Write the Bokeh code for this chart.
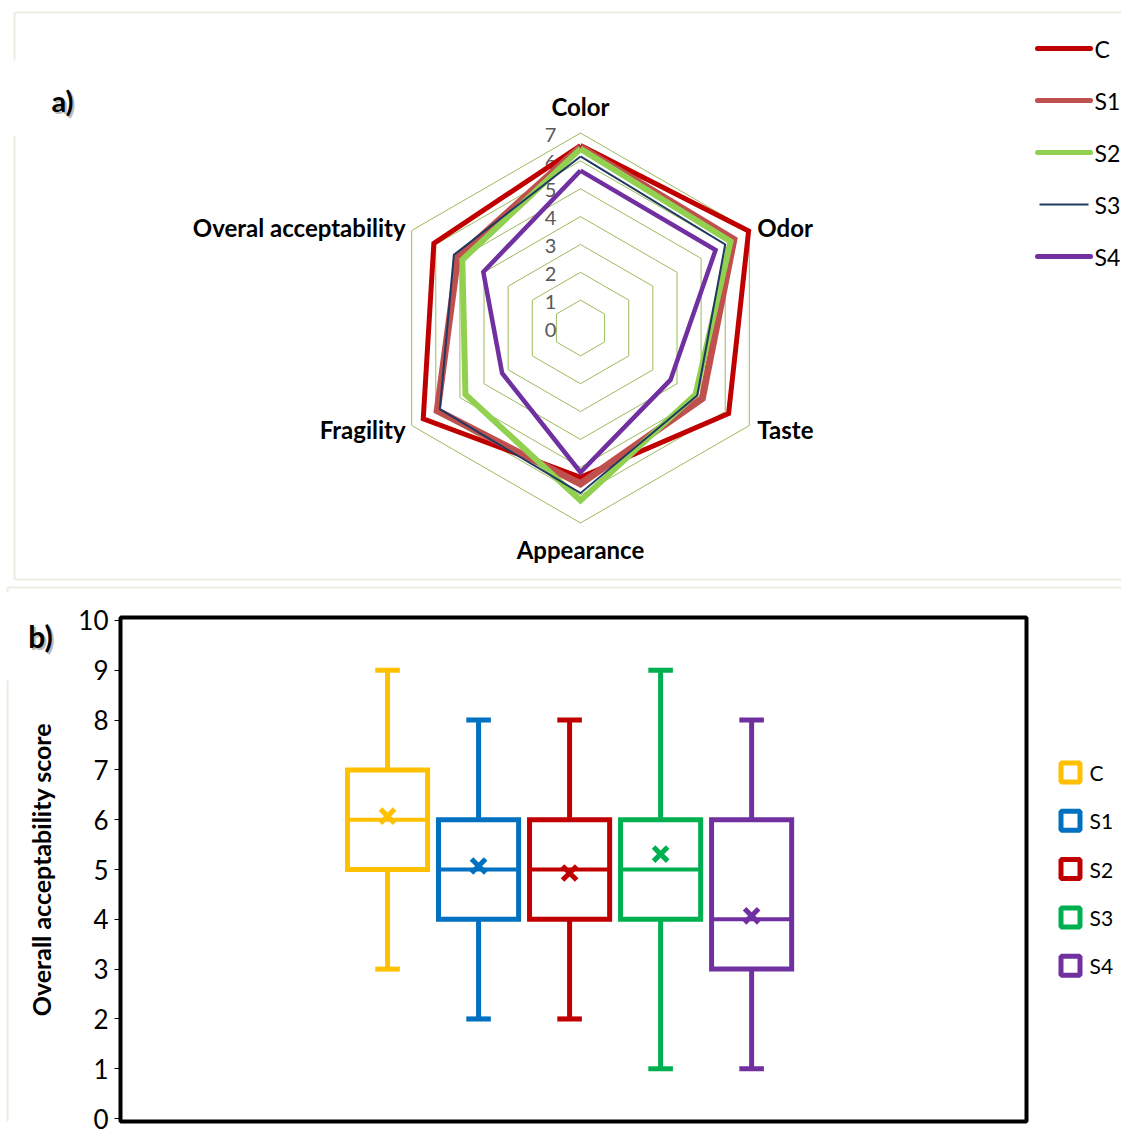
import numpy as np
from bokeh.plotting import figure
from bokeh.models import Range1d, FixedTicker
from bokeh.layouts import column, row
from bokeh.embed import file_html
from bokeh.resources import INLINE
from bokeh.core.properties import value

FONT = "Lato"

# ---------------- data: a) radar ----------------
attributes = ["Color", "Odor", "Taste", "Appearance", "Fragility", "Overal acceptability"]
radar_series = ["C", "S1", "S2", "S3", "S4"]
C_vals = [6.55, 6.97, 6.14, 5.36, 6.52, 6.08]
S1_vals = [6.50, 6.36, 5.05, 5.60, 5.94, 5.09]
S2_vals = [6.43, 6.22, 4.77, 6.19, 4.77, 4.90]
S3_vals = [6.16, 6.00, 4.84, 5.93, 5.83, 5.25]
S4_vals = [5.65, 5.60, 3.73, 5.18, 3.25, 4.03]
radar_ticks = [0, 1, 2, 3, 4, 5, 6, 7]

# ---------------- data: b) box plot ----------------
box_groups = ["C", "S1", "S2", "S3", "S4"]
whisker_low = [3, 2, 2, 1, 1]
q1 = [5, 4, 4, 4, 3]
median = [6, 5, 5, 5, 4]
q3 = [7, 6, 6, 6, 6]
whisker_high = [9, 8, 8, 9, 8]
mean = [6.07, 5.07, 4.93, 5.31, 4.07]
score_ticks = list(range(0, 11))
y_title = "Overall acceptability score"

# ---------------- styles ----------------
radar_colors = ["#C00000", "#C0504D", "#92D050", "#1F3864", "#7030A0"]
radar_widths = [5, 7, 6, 2, 4.5]
legend_widths = [5, 5, 5, 2, 5]
box_colors = ["#FFC000", "#0070C0", "#C00000", "#00B050", "#7030A0"]
ring_color = "#9BBB59"
panel_border = "#EEECE1"

W = 1121
TOP_H = 592
BOT_H = 544
TITLE_W = 60
LEFT_W = 1040
B_TOP, B_BOT = 25, 15                      # borders above/below the box-plot frame
F_TOP, F_BOT = TOP_H + B_TOP, TOP_H + BOT_H - B_BOT   # frame extent in page pixels

# ================= a) radar figure (pixel-like coords, y down) =================
p1 = figure(width=W, height=TOP_H, x_range=Range1d(0, W), y_range=Range1d(TOP_H, 0),
            output_backend="svg", toolbar_location=None, min_border=0,
            x_axis_type=None, y_axis_type=None)
p1.grid.visible = False
p1.outline_line_color = None
p1.background_fill_color = "white"

CX, CY, SC = 580.0, 327.5, 27.85
ang = np.arange(len(attributes)) * np.pi / 3.0


def to_xy(vals):
    v = np.asarray(vals, dtype=float)
    xs = CX + v * SC * np.sin(ang)
    ys = CY - v * SC * np.cos(ang)
    return list(xs) + [xs[0]], list(ys) + [ys[0]]


# panel borders
p1.multi_line(xs=[[14, W], [14, W], [14, 14], [14, 14], [7, W], [7, 7]],
              ys=[[12, 12], [579, 579], [12, 60], [135, 579], [587, 587], [587, 592]],
              line_color=panel_border, line_width=2)

# rings
ring_xs, ring_ys = [], []
for k in radar_ticks[1:]:
    xs, ys = to_xy([k] * len(attributes))
    ring_xs.append(xs)
    ring_ys.append(ys)
p1.multi_line(xs=ring_xs, ys=ring_ys, line_color=ring_color, line_width=1)

# tick labels
p1.text(x=[CX - 30] * len(radar_ticks), y=[CY - t * SC + 1.5 for t in radar_ticks],
        text=[str(t) for t in radar_ticks], text_font=value(FONT), text_font_size="20px",
        text_color="#595959", text_align="center", text_baseline="middle")

# series
all_vals = [C_vals, S1_vals, S2_vals, S3_vals, S4_vals]
for vals, col, lw in zip(all_vals, radar_colors, radar_widths):
    xs, ys = to_xy(vals)
    p1.line(xs, ys, line_color=col, line_width=lw, line_join="miter")

# attribute labels
R_out = 7 * SC
lab_x, lab_y, aligns = [], [], []
for i, a in enumerate(attributes):
    vx = CX + R_out * np.sin(ang[i])
    vy = CY - R_out * np.cos(ang[i])
    if i == 0:
        lab_x.append(vx); lab_y.append(vy - 27); aligns.append("center")
    elif i == 3:
        lab_x.append(vx); lab_y.append(vy + 27); aligns.append("center")
    elif i in (1, 2):
        lab_x.append(vx + 8); lab_y.append(vy + (-3 if i == 1 else 4)); aligns.append("left")
    else:
        lab_x.append(vx - 6); lab_y.append(vy + (4 if i == 4 else -3)); aligns.append("right")
for x, y, t, al in zip(lab_x, lab_y, attributes, aligns):
    p1.text(x=[x], y=[y], text=[t], text_font=value(FONT), text_font_size="24px",
            text_font_style="bold", text_color="black", text_align=al, text_baseline="middle")

# legend a)
for i, (s, col, lw) in enumerate(zip(radar_series, radar_colors, legend_widths)):
    yy = 48 + 52 * i
    x0, x1 = (1039, 1088) if lw < 3 else (1037, 1090)
    p1.line([x0, x1], [yy, yy], line_color=col, line_width=lw,
            line_cap="round" if lw >= 3 else "butt")
    p1.text(x=[1094], y=[yy], text=[s], text_font=value(FONT), text_font_size="23px",
            text_color="black", text_align="left", text_baseline="middle")

p1.text(x=[64], y=[102], text=["a)"], text_font=value(FONT), text_font_size="29px",
        text_font_style="bold", text_color="#BBBBBB", text_align="center", text_baseline="middle")
p1.text(x=[62], y=[100], text=["a)"], text_font=value(FONT), text_font_size="29px",
        text_font_style="bold", text_color="black", text_align="center", text_baseline="middle")

# ================= b) left strip: panel tag and y title =================
p0 = figure(width=TITLE_W, height=BOT_H, x_range=Range1d(0, TITLE_W),
            y_range=Range1d(F_BOT, F_TOP), output_backend="svg", toolbar_location=None,
            min_border_left=0, min_border_right=0, min_border_top=B_TOP, min_border_bottom=B_BOT,
            x_axis_type=None, y_axis_type=None)
p0.grid.visible = False
p0.outline_line_color = None
p0.line([7, 7], [680, F_BOT], line_color=panel_border, line_width=2)
p0.text(x=[42], y=[637], text=["b)"], text_font=value(FONT), text_font_size="30px",
        text_font_style="bold", text_color="#BBBBBB", text_align="center", text_baseline="middle")
p0.text(x=[40], y=[635], text=["b)"], text_font=value(FONT), text_font_size="30px",
        text_font_style="bold", text_color="black", text_align="center", text_baseline="middle")
p0.text(x=[40], y=[869], text=[y_title], angle=np.pi / 2, text_font=value(FONT),
        text_font_size="25px", text_font_style="bold", text_color="black",
        text_align="center", text_baseline="middle")

# ================= b) box plot =================
xpos = list(range(1, len(box_groups) + 1))
p2 = figure(width=LEFT_W - TITLE_W, height=BOT_H, x_range=Range1d(-1.934, 8.02),
            y_range=Range1d(-0.06, 10.06),
            output_backend="svg", toolbar_location=None, x_axis_location=None,
            min_border_left=120 - TITLE_W, min_border_right=14, min_border_top=B_TOP,
            min_border_bottom=B_BOT)
p2.grid.visible = False
p2.outline_line_color = "black"
p2.outline_line_width = 4

yax = p2.yaxis[0]
yax.ticker = FixedTicker(ticks=score_ticks)
yax.major_label_text_font = FONT
yax.major_label_text_font_size = "26px"
yax.major_label_text_color = "black"
yax.major_tick_out = 6
yax.major_tick_in = 0
yax.minor_tick_out = 0
yax.minor_tick_in = 0
yax.axis_line_width = 2
yax.axis_line_color = "black"
yax.major_tick_line_color = "black"
yax.major_label_standoff = 6

BW = 0.88
CAP = 0.27
# whiskers
p2.segment(x0=xpos, y0=q3, x1=xpos, y1=whisker_high, line_color=box_colors, line_width=5)
p2.segment(x0=xpos, y0=whisker_low, x1=xpos, y1=q1, line_color=box_colors, line_width=5)
p2.segment(x0=[x - CAP / 2 for x in xpos], y0=whisker_high, x1=[x + CAP / 2 for x in xpos],
           y1=whisker_high, line_color=box_colors, line_width=5)
p2.segment(x0=[x - CAP / 2 for x in xpos], y0=whisker_low, x1=[x + CAP / 2 for x in xpos],
           y1=whisker_low, line_color=box_colors, line_width=5)
# boxes
p2.vbar(x=xpos, bottom=q1, top=q3, width=BW, fill_color="white", line_color=box_colors,
        line_width=5, line_join="miter")
# medians
p2.segment(x0=[x - BW / 2 for x in xpos], y0=median, x1=[x + BW / 2 for x in xpos], y1=median,
           line_color=box_colors, line_width=4)
# means
p2.scatter(x=xpos, y=mean, marker="x", size=20, line_color=box_colors, line_width=5)

# legend b) figure
p3 = figure(width=W - LEFT_W, height=BOT_H, x_range=Range1d(LEFT_W, W),
            y_range=Range1d(F_BOT, F_TOP), output_backend="svg", toolbar_location=None,
            min_border_left=0, min_border_right=0, min_border_top=B_TOP, min_border_bottom=B_BOT,
            x_axis_type=None, y_axis_type=None)
p3.grid.visible = False
p3.outline_line_color = None
leg_y = [772 + 48.3 * i for i in range(len(box_groups))]
p3.scatter(x=[1070] * len(box_groups), y=leg_y, marker="square", size=19, fill_color="white",
           line_color=box_colors, line_width=5)
p3.text(x=[1089] * len(box_groups), y=leg_y, text=box_groups, text_font=value(FONT),
        text_font_size="21px", text_color="black", text_align="left", text_baseline="middle")

layout = column(p1, row(p0, p2, p3, spacing=0), spacing=0)
open("out.html", "w").write(file_html(layout, INLINE))
